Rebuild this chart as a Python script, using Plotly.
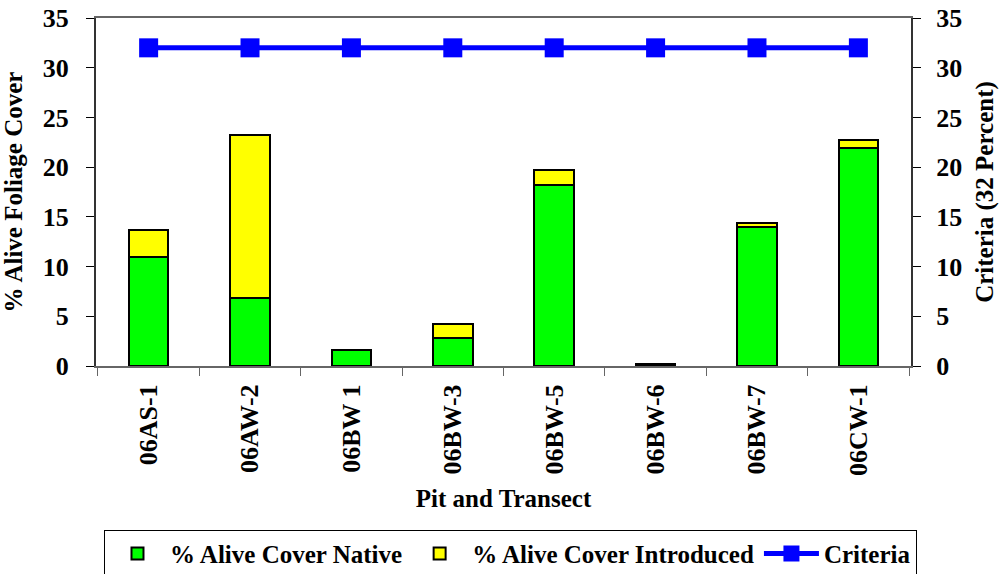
import plotly.graph_objects as go

transects = ["06AS-1", "06AW-2", "06BW 1", "06BW-3", "06BW-5", "06BW-6", "06BW-7", "06CW-1"]
native = [11.0, 6.8, 1.6, 2.8, 18.2, 0.2, 14.0, 21.9]
introduced = [2.7, 16.4, 0.0, 1.4, 1.5, 0.0, 0.4, 0.8]
criteria = [32, 32, 32, 32, 32, 32, 32, 32]

serif = "Liberation Serif, Times New Roman, serif"
tick_font = dict(family=serif, size=26, color="black", weight="bold")
title_font = dict(family=serif, size=25, color="black", weight="bold")

fig = go.Figure()

fig.add_trace(go.Bar(
    x=transects,
    y=native,
    name="% Alive Cover Native",
    marker=dict(color="#00FF00", line=dict(color="black", width=2)),
    width=0.39
))

fig.add_trace(go.Bar(
    x=transects,
    y=introduced,
    name="% Alive Cover Introduced",
    marker=dict(color="#FFFF00", line=dict(color="black", width=2)),
    width=0.39
))

fig.add_trace(go.Scatter(
    x=transects,
    y=criteria,
    name="Criteria",
    mode="lines+markers",
    line=dict(color="#0000FF", width=5),
    marker=dict(symbol="square", size=19, color="#0000FF"),
    yaxis="y2"
))

fig.update_layout(
    width=999,
    height=574,
    barmode="stack",
    plot_bgcolor="white",
    paper_bgcolor="white",
    margin=dict(l=96, r=88, t=18, b=208, autoexpand=False),
    font=dict(family=serif, color="black"),
    xaxis=dict(
        title=dict(text="Pit and Transect", font=title_font),
        tickfont=tick_font,
        tickangle=-90,
        tickson="boundaries",
        ticks="outside",
        ticklen=8,
        ticklabelstandoff=6,
        tickcolor="#666666",
        showline=True,
        linecolor="#666666",
        linewidth=2,
        mirror=True,
        showgrid=False,
        automargin=False
    ),
    yaxis=dict(
        title=dict(text="% Alive Foliage Cover", font=title_font),
        range=[0, 35],
        dtick=5,
        tickfont=tick_font,
        ticks="outside",
        ticklen=8,
        ticklabelstandoff=12,
        tickcolor="black",
        showline=True,
        linecolor="#333333",
        linewidth=2,
        showgrid=False,
        zeroline=False,
        automargin=False
    ),
    yaxis2=dict(
        title=dict(text="Criteria (32 Percent)", font=title_font),
        range=[0, 35],
        dtick=5,
        tickfont=tick_font,
        overlaying="y",
        side="right",
        ticks="outside",
        ticklen=8,
        ticklabelstandoff=10,
        tickcolor="black",
        showline=True,
        linecolor="#333333",
        linewidth=2,
        showgrid=False,
        zeroline=False,
        automargin=False
    ),
    legend=dict(
        orientation="h",
        xref="container",
        yref="container",
        x=0.511,
        xanchor="center",
        y=0.077,
        yanchor="top",
        itemwidth=55,
        font=dict(family=serif, size=25, color="black", weight="bold"),
        bordercolor="black",
        borderwidth=1,
        traceorder="normal"
    ),
    showlegend=True
)

# drop the default page margin so the figure sits at the window's corner
fig.write_html(
    "out.html",
    config={"displayModeBar": False},
    post_script="document.body.style.margin='0';"
)
